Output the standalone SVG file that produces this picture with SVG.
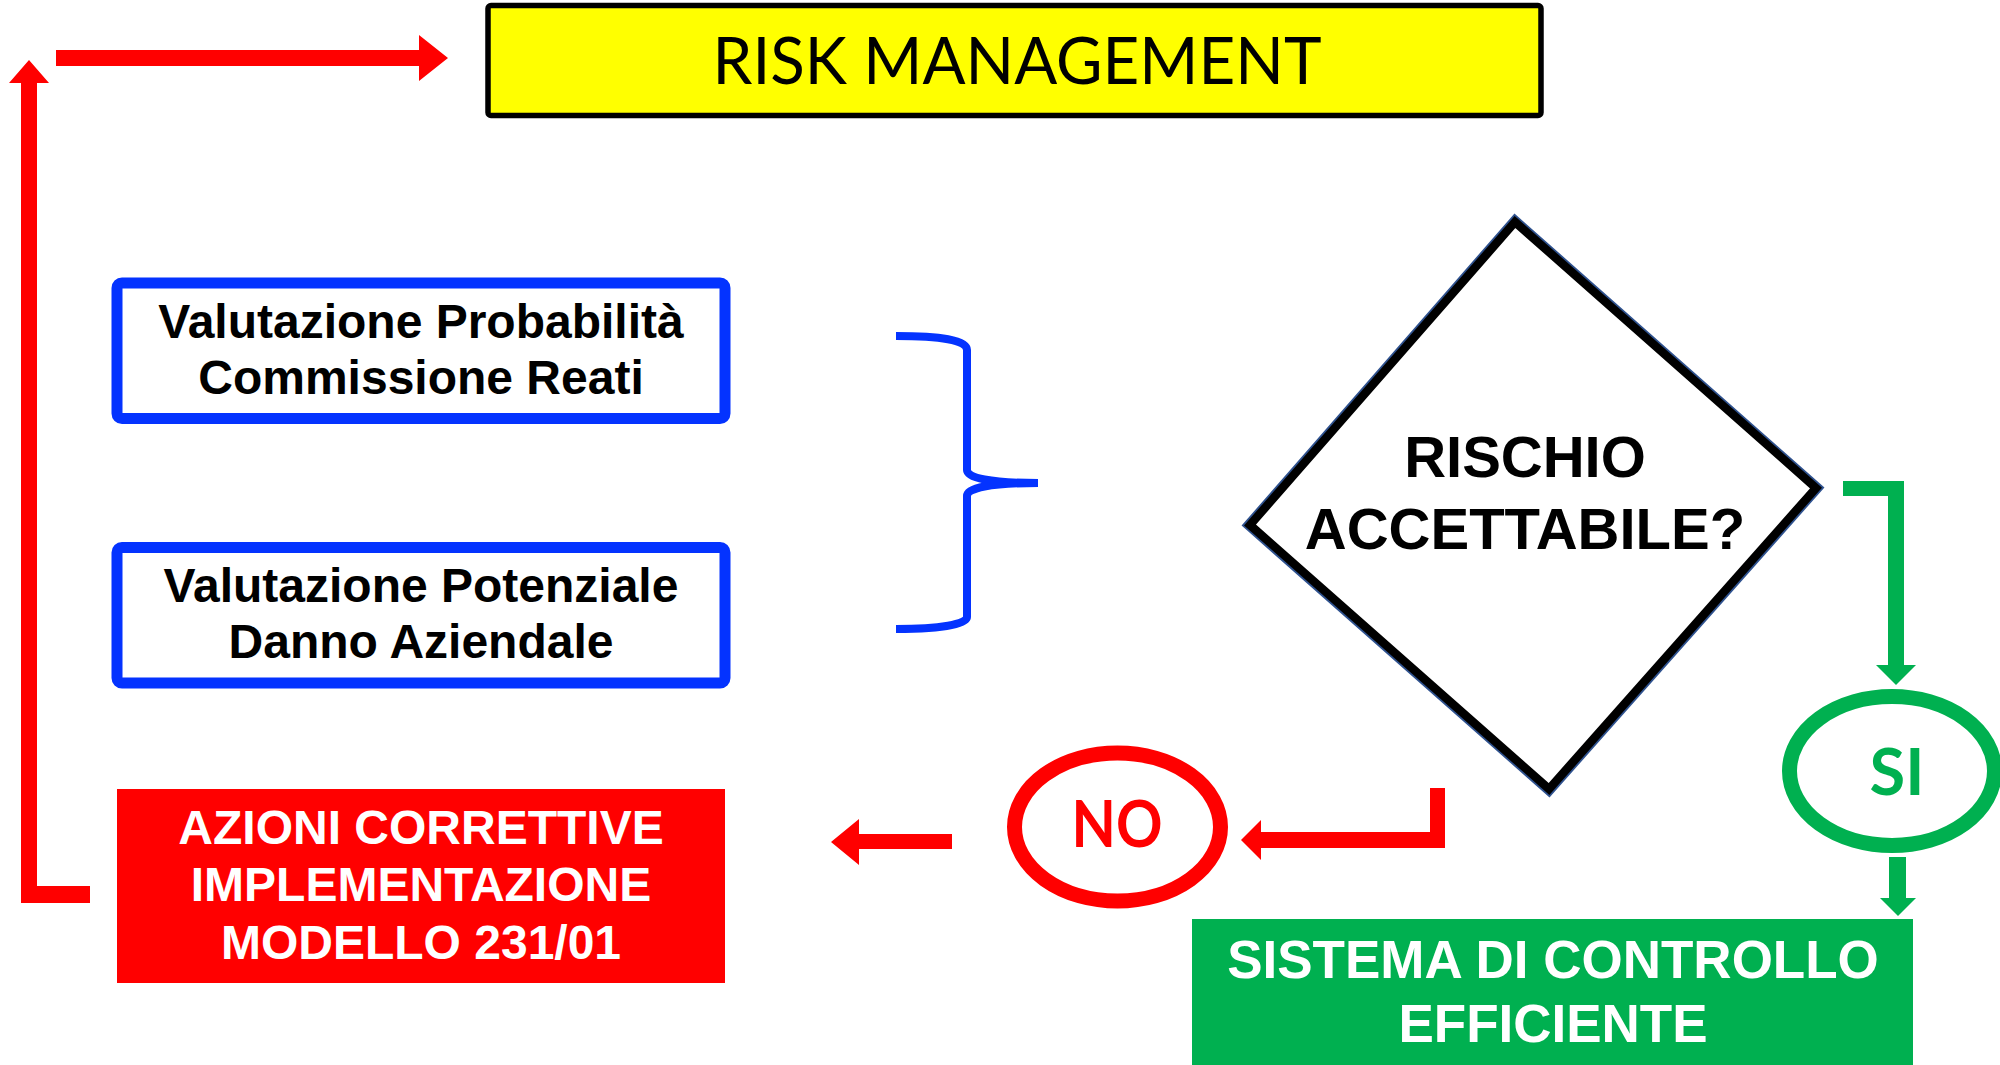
<svg xmlns="http://www.w3.org/2000/svg" width="2000" height="1065" viewBox="0 0 2000 1065">
<style>
.h{font-family:"Liberation Sans",Arial,sans-serif;font-weight:bold;text-anchor:middle}
.blue{fill:#fff;stroke:#0433FF;stroke-width:11}
.red{fill:#FF0000}
.grn{fill:#00B050}
</style>
<rect width="2000" height="1065" fill="#fff"/>
<g id="connectors">
<polygon class="red" points="90,886 37,886 37,83 49,83 29,60 9,83 21,83 21,903 90,903"/>
<polygon class="red" points="56,50 419,50 419,35 448,58 419,81 419,66 56,66"/>
<polygon class="red" points="952,834 859,834 859,819 831,842 859,865 859,849 952,849"/>
<polygon class="red" points="1445,788 1430,788 1430,832 1261,832 1261,820 1241,840 1261,860 1261,848 1445,848"/>
<polygon class="grn" points="1843,481 1904,481 1904,665 1916,665 1896,685 1876,665 1888,665 1888,496 1843,496"/>
<polygon class="grn" points="1889,857 1906,857 1906,898 1916,898 1898,916 1880,898 1889,898"/>
<path d="M896,336 C940,336 967,340 967,350 L967,470 C967,478 990,483 1038,483 C990,483 967,488 967,496 L967,617 C967,624 940,629 896,629" fill="none" stroke="#0433FF" stroke-width="8"/>
</g>
<g id="risk-management">
<rect x="488" y="5.5" width="1053" height="110" rx="3" fill="#FFFF00" stroke="#000" stroke-width="5.5"/>
<text x="1017" y="84" font-family="Lato,'Open Sans',sans-serif" font-size="65" text-anchor="middle" textLength="609" lengthAdjust="spacingAndGlyphs">RISK MANAGEMENT</text>
</g>
<g id="probabilita">
<rect class="blue" x="117" y="283" width="608" height="135.5" rx="5"/>
<text class="h" x="421" y="338" font-size="48">Valutazione Probabilità</text>
<text class="h" x="421" y="394" font-size="48">Commissione Reati</text>
</g>
<g id="danno">
<rect class="blue" x="117" y="547.5" width="608" height="135.5" rx="5"/>
<text class="h" x="421" y="602" font-size="48">Valutazione Potenziale</text>
<text class="h" x="421" y="658" font-size="48">Danno Aziendale</text>
</g>
<g id="azioni">
<rect class="red" x="117" y="789" width="608" height="194"/>
<text class="h" x="421" y="844" font-size="48" fill="#fff">AZIONI CORRETTIVE</text>
<text class="h" x="421" y="901" font-size="48" fill="#fff">IMPLEMENTAZIONE</text>
<text class="h" x="421" y="959" font-size="48" fill="#fff">MODELLO 231/01</text>
</g>
<g id="rischio">
<polygon points="1515,222 1816,488 1549,789 1250,525" fill="#fff" stroke="#2F528F" stroke-width="12" stroke-linejoin="miter"/>
<polygon points="1515,222 1816,488 1549,789 1250,525" fill="#fff" stroke="#000" stroke-width="8.5" stroke-linejoin="miter"/>
<text class="h" x="1525" y="477" font-size="58">RISCHIO</text>
<text class="h" x="1525" y="549" font-size="58">ACCETTABILE?</text>
</g>
<g id="no">
<ellipse cx="1117.5" cy="827" rx="103" ry="74" fill="#fff" stroke="#FF0000" stroke-width="15"/>
<text x="1117" y="847" font-family="Lato,'Open Sans',sans-serif" font-weight="bold" font-size="65" text-anchor="middle" fill="#FF0000" textLength="91" lengthAdjust="spacingAndGlyphs">NO</text>
</g>
<g id="si">
<ellipse cx="1892" cy="771" rx="102.5" ry="74.5" fill="#fff" stroke="#00B050" stroke-width="15"/>
<text x="1897" y="795" font-family="Lato,'Open Sans',sans-serif" font-weight="bold" font-size="65" text-anchor="middle" fill="#00B050">SI</text>
</g>
<g id="sistema">
<rect class="grn" x="1192" y="919" width="721" height="150"/>
<text class="h" x="1553" y="978" font-size="53" fill="#fff">SISTEMA DI CONTROLLO</text>
<text class="h" x="1553" y="1042" font-size="53" fill="#fff">EFFICIENTE</text>
</g>
</svg>
